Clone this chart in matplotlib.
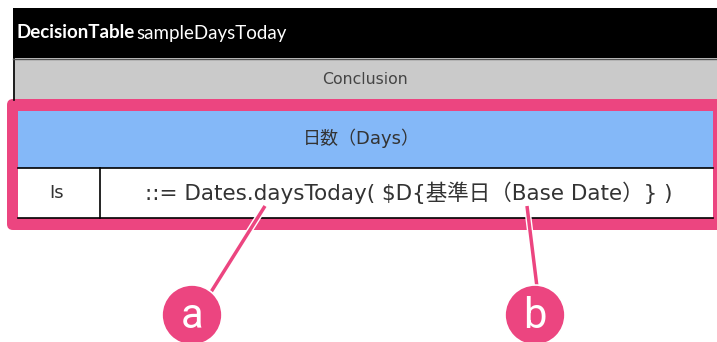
import matplotlib.pyplot as plt
from matplotlib.patches import Rectangle, FancyBboxPatch, Circle
import matplotlib.patheffects as pe

plt.rcParams['font.family'] = ['DejaVu Sans', 'Noto Sans CJK JP']

# table content
table_kind = "DecisionTable"
table_name = "sampleDaysToday"
section_label = "Conclusion"
column_label = "日数（Days）"
operator_label = "Is"
formula_text = "::= Dates.daysToday( $D{基準日（Base Date）} )"
callout_labels = ["a", "b"]

PINK = '#EC4580'
BLUE = '#84B8F8'
GRAY = '#CACACA'
TXT = '#333333'

W, H = 717, 342
fig = plt.figure(figsize=(W / 100, H / 100), dpi=100, facecolor='white')
ax = fig.add_axes([0, 0, 1, 1])
ax.set_xlim(0, W)
ax.set_ylim(H, 0)
ax.axis('off')

# header bar
ax.add_patch(Rectangle((13, 8), 720, 50, facecolor='black', edgecolor='none'))
# conclusion band
ax.add_patch(Rectangle((13, 58), 720, 42, facecolor=GRAY, edgecolor='none'))
ax.plot([13.5, 13.5], [58, 100], color='black', lw=1.2)
ax.plot([13, 717], [58.5, 58.5], color='#555555', lw=1)

# pink highlight box
ax.add_patch(FancyBboxPatch((7, 99), 730, 131, boxstyle='round,pad=0,rounding_size=6',
                            facecolor=PINK, edgecolor='none'))
# column header
ax.add_patch(Rectangle((18, 111), 695, 57, facecolor=BLUE, edgecolor='none'))
# value row
ax.add_patch(Rectangle((18, 168), 695, 50, facecolor='white', edgecolor='none'))
ax.plot([18, 713], [168, 168], color='black', lw=1.2)
ax.plot([18, 713], [218, 218], color='black', lw=1.2)
ax.plot([100, 100], [168, 218], color='black', lw=1.2)

# texts
t1 = ax.text(17, 33, table_kind, color='white', fontsize=13.5, fontweight='bold',
             family=['Lato', 'DejaVu Sans'], va='center', ha='left')
fig.canvas.draw()
bb = t1.get_window_extent()
x2 = ax.transData.inverted().transform((bb.x1, 0))[0] + 1
ax.text(x2, 33, table_name, color='white', fontsize=13.5,
        family=['Lato', 'DejaVu Sans'], va='center', ha='left')

ax.text(365, 80, section_label, color='#444444', fontsize=11.3, ha='center', va='center')
ax.text(361, 138, column_label, color=TXT, fontsize=13, ha='center', va='center')
ax.text(57, 193, operator_label, color=TXT, fontsize=13, ha='center', va='center')
ax.text(409, 193, formula_text, color=TXT, fontsize=15.5, ha='center', va='center')

# callouts
callouts = [((265, 206), (211, 292), (192, 315)),
            ((527, 206), (537, 287), (535, 315))]
outline = [pe.Stroke(linewidth=4.5, foreground='white'), pe.Normal()]
for (start, end, centre), lab in zip(callouts, callout_labels):
    ax.plot([start[0], end[0]], [start[1], end[1]], color=PINK, lw=2.5,
            solid_capstyle='butt', path_effects=outline, zorder=5)
    ax.add_patch(Circle(centre, 30, facecolor=PINK, edgecolor='white', lw=1.2, zorder=6))
    ax.text(centre[0], centre[1] + 2, lab, color='white', fontsize=30,
            family=['Roboto', 'DejaVu Sans'], ha='center', va='center', zorder=7)

fig.savefig('out.png', dpi=100, facecolor='white')
